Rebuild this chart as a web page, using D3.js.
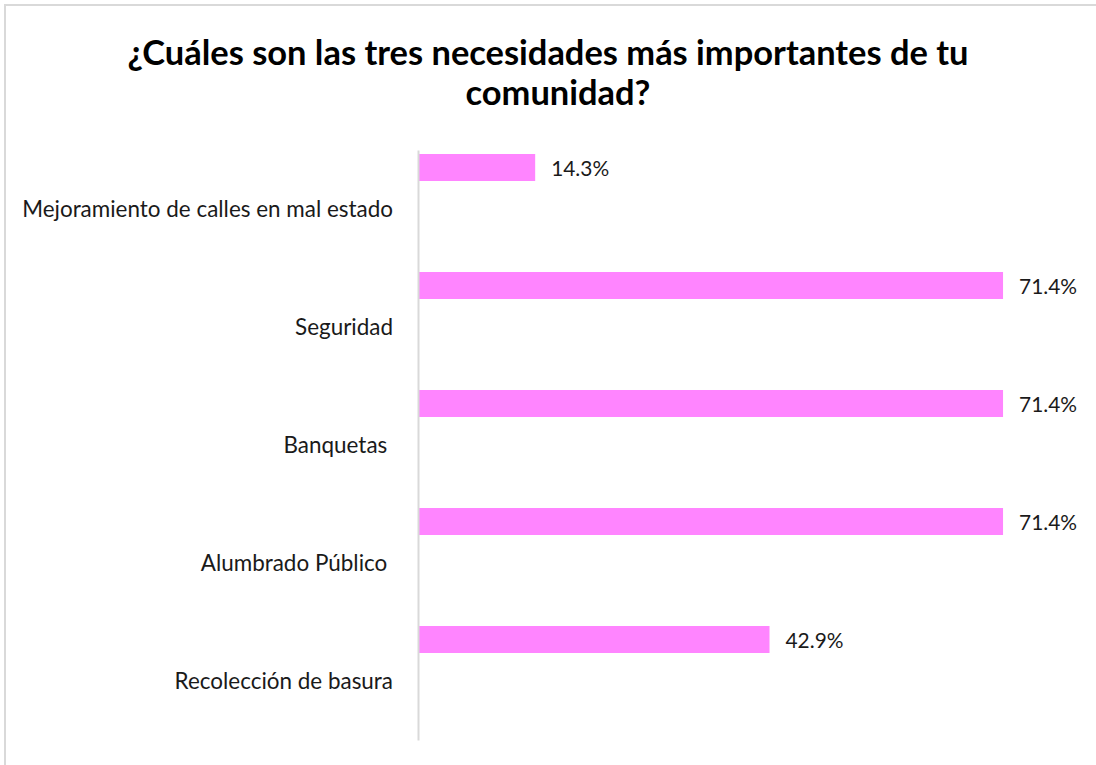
<!DOCTYPE html>
<html><head><meta charset="utf-8">
<script src="https://cdn.jsdelivr.net/npm/d3@7"></script>
<style>
html,body{margin:0;padding:0;background:#fff;}
text{font-family:Lato,"Open Sans",sans-serif;}
</style></head>
<body>
<svg id="chart" width="1096" height="765"></svg>
<script>
const titleLines = ["¿Cuáles son las tres necesidades más importantes de tu", "comunidad?"];
const categories = ["Mejoramiento de calles en mal estado", "Seguridad", "Banquetas ", "Alumbrado Público ", "Recolección de basura"];
const values = [14.3, 71.4, 71.4, 71.4, 42.9];
const xDomain = [0, 80];

const svg = d3.select("#chart");
svg.append("rect").attr("x",5).attr("y",5).attr("width",1200).attr("height",900)
  .attr("fill","#fff").attr("stroke","#d9d9d9").attr("stroke-width",2);

const x = d3.scaleLinear().domain(xDomain).range([418, 1073.5]);
const y = d3.scaleBand().domain(categories).range([150, 740]).padding(0);

function fit(sel, target){
  sel.each(function(){
    const s = parseFloat(d3.select(this).attr("font-size"));
    const w = this.getComputedTextLength();
    d3.select(this).attr("font-size", s*target/w);
  });
}

// title
const t1 = svg.append("text").attr("x",548).attr("y",65).attr("text-anchor","middle")
  .attr("font-weight","bold").attr("font-size",30).attr("fill","#000").text(titleLines[0]);
fit(t1, 841);
const t2 = svg.append("text").attr("x",558).attr("y",105).attr("text-anchor","middle")
  .attr("font-weight","bold").attr("font-size",30).attr("fill","#000").text(titleLines[1]);
t2.attr("font-size", t1.attr("font-size"));

// bars
const barOff = 4, barH = 27;
svg.append("g").selectAll("rect").data(categories).join("rect")
  .attr("x", x(0)).attr("y", d => y(d) + barOff)
  .attr("width", (d,i) => x(values[i]) - x(0)).attr("height", barH)
  .attr("fill", "#ff85ff");

// axis
const axis = svg.append("g").attr("transform", `translate(${x(0)},0)`)
  .call(d3.axisLeft(y).tickSize(0).tickFormat(""));
axis.select(".domain").attr("stroke","#d9d9d9").attr("stroke-width",2);

// category labels
const labs = svg.append("g").selectAll("text").data(categories).join("text")
  .attr("x", 393).attr("y", d => y(d) + y.bandwidth()/2 + 8)
  .attr("text-anchor","end").attr("font-size",20).attr("fill","#1a1a1a")
  .style("white-space","pre").text(d => d);
const longest = labs.filter((d,i)=>i===0).node();
const sz = 20*371/longest.getComputedTextLength();
labs.attr("font-size", sz);

// value labels
const vl = svg.append("g").selectAll("text").data(categories).join("text")
  .attr("x", (d,i) => x(values[i]) + 16).attr("y", d => y(d) + barOff + barH/2 + 8)
  .attr("font-size",18).attr("fill","#1a1a1a")
  .text((d,i) => d3.format(".1f")(values[i]) + "%");
const vsz = 18*58/vl.node().getComputedTextLength();
vl.attr("font-size", vsz);
</script>
</body></html>
